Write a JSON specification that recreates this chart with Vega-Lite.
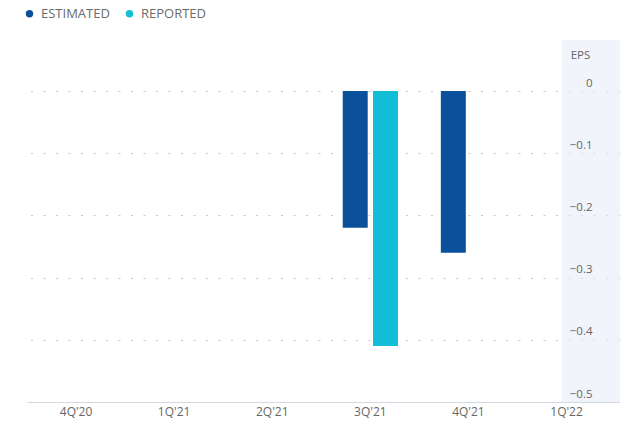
{
  "$schema": "https://vega.github.io/schema/vega-lite/v6.json",
  "width": 593,
  "height": 362,
  "autosize": {"type": "none"},
  "padding": {"left": 27, "top": 40, "right": 0, "bottom": 29},
  "background": "#ffffff",
  "config": {
    "view": {"stroke": null},
    "font": "Open Sans"
  },
  "datasets": {
    "eps": [
      {"quarter": "3Q'21", "series": "ESTIMATED", "eps": -0.22},
      {"quarter": "3Q'21", "series": "REPORTED", "eps": -0.41},
      {"quarter": "4Q'21", "series": "ESTIMATED", "eps": -0.26}
    ],
    "panel": [
      {"quarter": "1Q'22"}
    ]
  },
  "resolve": {"axis": {"y": "independent"}},
  "layer": [
    {
      "data": {"name": "panel"},
      "mark": {"type": "rect", "fill": "#e4e9f6", "opacity": 0.5},
      "encoding": {
        "x": {"field": "quarter", "type": "nominal", "bandPosition": 0.45},
        "x2": {"value": {"expr": "width"}},
        "y": {
          "datum": 0.0821,
          "type": "quantitative",
          "axis": {
            "orient": "right",
            "offset": -28,
            "zindex": 1,
            "values": [0, -0.1, -0.2, -0.3, -0.4, -0.5],
            "labelExpr": "datum.value == 0 ? '0' : format(datum.value, '.1f')",
            "labelAlign": "right",
            "labelBaseline": "middle",
            "labelOffset": -8,
            "labelPadding": 0,
            "labelFontSize": 11.5,
            "labelColor": "#666666",
            "ticks": false,
            "domain": false,
            "grid": false,
            "title": "EPS",
            "titleAngle": 0,
            "titleX": -12,
            "titleY": 15,
            "titleAlign": "center",
            "titleBaseline": "middle",
            "titleFontSize": 11.5,
            "titleFontWeight": "normal",
            "titleColor": "#666666"
          }
        },
        "y2": {"datum": -0.5}
      }
    },
    {
      "data": {"name": "eps"},
      "mark": {"type": "bar"},
      "encoding": {
        "x": {
          "field": "quarter",
          "type": "nominal",
          "sort": null,
          "scale": {
            "domain": ["4Q'20", "1Q'21", "2Q'21", "3Q'21", "4Q'21", "1Q'22"],
            "paddingInner": 0,
            "paddingOuter": 0.0224,
            "align": 0
          },
          "axis": {
            "title": null,
            "bandPosition": 0.5,
            "labelAngle": 0,
            "labelAlign": "center",
            "ticks": false,
            "labelPadding": 9,
            "labelFontSize": 12,
            "labelColor": "#666666",
            "domainColor": "#d3d9e3",
            "domainWidth": 1,
            "grid": false
          }
        },
        "xOffset": {
          "field": "series",
          "type": "nominal",
          "scale": {
            "domain": ["ESTIMATED", "REPORTED"],
            "paddingInner": 0.175,
            "paddingOuter": 0.708
          }
        },
        "y": {
          "field": "eps",
          "type": "quantitative",
          "scale": {"domain": [-0.5, 0.0821], "nice": false, "zero": false},
          "axis": {
            "orient": "right",
            "values": [0, -0.1, -0.2, -0.3, -0.4],
            "labels": false,
            "ticks": false,
            "domain": false,
            "title": null,
            "grid": true,
            "zindex": 0,
            "gridColor": "#c8c8c8",
            "gridDash": [2, 10.5],
            "gridWidth": 1
          }
        },
        "color": {
          "field": "series",
          "type": "nominal",
          "scale": {
            "domain": ["ESTIMATED", "REPORTED"],
            "range": ["#0b509b", "#12bed6"]
          },
          "legend": {
            "orient": "none",
            "legendX": -4,
            "legendY": -33,
            "direction": "horizontal",
            "title": null,
            "symbolType": "circle",
            "symbolSize": 55,
            "symbolStrokeWidth": 0,
            "symbolOpacity": 1,
            "labelFontSize": 13,
            "labelColor": "#6b6b6b",
            "labelOffset": 5,
            "columnPadding": 13
          }
        }
      }
    }
  ]
}
